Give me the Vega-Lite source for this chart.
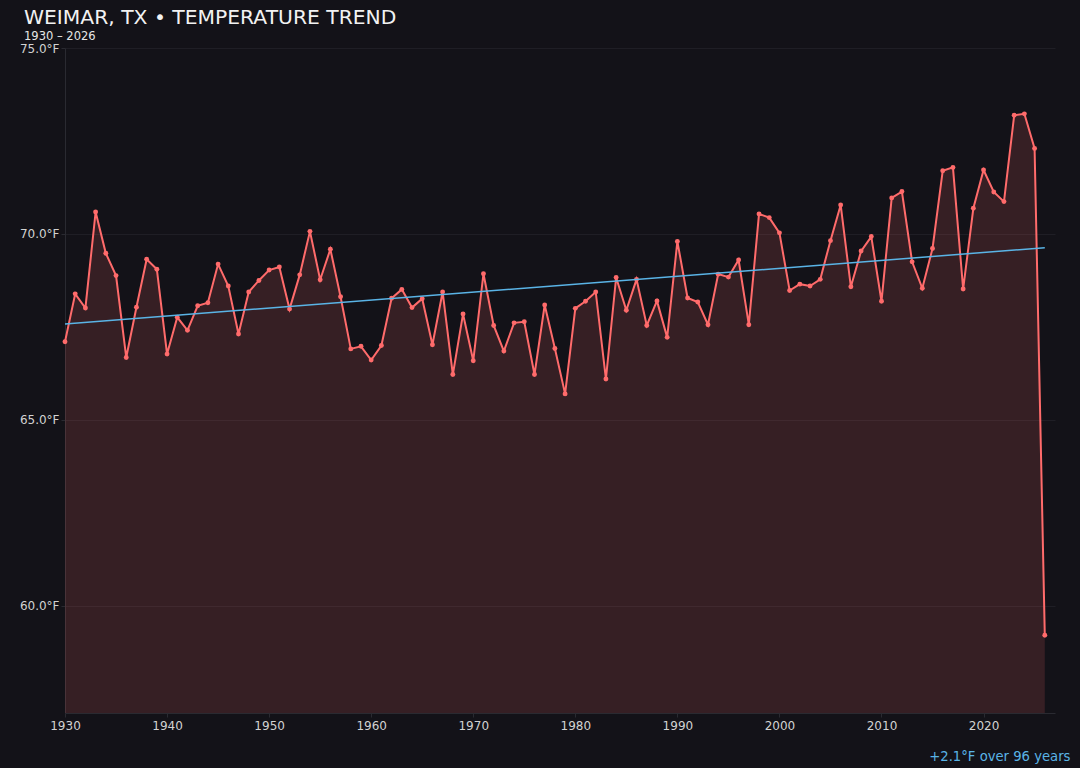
{
  "$schema": "https://vega.github.io/schema/vega-lite/v6.json",
  "width": 990,
  "height": 665,
  "autosize": {"type": "none"},
  "padding": {"left": 65, "top": 48, "right": 25, "bottom": 55},
  "background": "#131218",
  "title": {
    "text": "WEIMAR, TX • TEMPERATURE TREND",
    "subtitle": "1930 – 2026",
    "anchor": "start",
    "frame": "group",
    "dx": -41,
    "offset": 0,
    "font": "DejaVu Sans",
    "fontSize": 20.3,
    "fontWeight": "normal",
    "color": "#f2f2f2",
    "subtitleFont": "DejaVu Sans",
    "subtitleFontSize": 11.5,
    "subtitleColor": "#e6e6e6",
    "subtitlePadding": 2
  },
  "config": {
    "view": {"stroke": null},
    "font": "DejaVu Sans",
    "axis": {
      "labelColor": "#d2d2d2",
      "labelFontSize": 12,
      "labelFont": "DejaVu Sans",
      "domainColor": "#2a2a31",
      "tickColor": "#2a2a31",
      "gridColor": "#1f1e25",
      "titleColor": "#5ab4e6"
    }
  },
  "datasets": {
    "temps": [
      {"year": 1930, "temp": 67.10}, {"year": 1931, "temp": 68.39}, {"year": 1932, "temp": 68.01},
      {"year": 1933, "temp": 70.59}, {"year": 1934, "temp": 69.48}, {"year": 1935, "temp": 68.88},
      {"year": 1936, "temp": 66.68}, {"year": 1937, "temp": 68.03}, {"year": 1938, "temp": 69.32},
      {"year": 1939, "temp": 69.05}, {"year": 1940, "temp": 66.77}, {"year": 1941, "temp": 67.76},
      {"year": 1942, "temp": 67.41}, {"year": 1943, "temp": 68.07}, {"year": 1944, "temp": 68.15},
      {"year": 1945, "temp": 69.19}, {"year": 1946, "temp": 68.60}, {"year": 1947, "temp": 67.31},
      {"year": 1948, "temp": 68.44}, {"year": 1949, "temp": 68.75}, {"year": 1950, "temp": 69.03},
      {"year": 1951, "temp": 69.11}, {"year": 1952, "temp": 67.98}, {"year": 1953, "temp": 68.90},
      {"year": 1954, "temp": 70.07}, {"year": 1955, "temp": 68.77}, {"year": 1956, "temp": 69.59},
      {"year": 1957, "temp": 68.31}, {"year": 1958, "temp": 66.91}, {"year": 1959, "temp": 66.98},
      {"year": 1960, "temp": 66.61}, {"year": 1961, "temp": 67.00}, {"year": 1962, "temp": 68.27},
      {"year": 1963, "temp": 68.51}, {"year": 1964, "temp": 68.02}, {"year": 1965, "temp": 68.26},
      {"year": 1966, "temp": 67.02}, {"year": 1967, "temp": 68.44}, {"year": 1968, "temp": 66.22},
      {"year": 1969, "temp": 67.85}, {"year": 1970, "temp": 66.59}, {"year": 1971, "temp": 68.93},
      {"year": 1972, "temp": 67.54}, {"year": 1973, "temp": 66.85}, {"year": 1974, "temp": 67.61},
      {"year": 1975, "temp": 67.64}, {"year": 1976, "temp": 66.22}, {"year": 1977, "temp": 68.09},
      {"year": 1978, "temp": 66.92}, {"year": 1979, "temp": 65.70}, {"year": 1980, "temp": 68.00},
      {"year": 1981, "temp": 68.19}, {"year": 1982, "temp": 68.44}, {"year": 1983, "temp": 66.10},
      {"year": 1984, "temp": 68.83}, {"year": 1985, "temp": 67.95}, {"year": 1986, "temp": 68.78},
      {"year": 1987, "temp": 67.54}, {"year": 1988, "temp": 68.20}, {"year": 1989, "temp": 67.22},
      {"year": 1990, "temp": 69.80}, {"year": 1991, "temp": 68.28}, {"year": 1992, "temp": 68.17},
      {"year": 1993, "temp": 67.56}, {"year": 1994, "temp": 68.92}, {"year": 1995, "temp": 68.84},
      {"year": 1996, "temp": 69.30}, {"year": 1997, "temp": 67.56}, {"year": 1998, "temp": 70.54},
      {"year": 1999, "temp": 70.44}, {"year": 2000, "temp": 70.03}, {"year": 2001, "temp": 68.48},
      {"year": 2002, "temp": 68.65}, {"year": 2003, "temp": 68.60}, {"year": 2004, "temp": 68.78},
      {"year": 2005, "temp": 69.82}, {"year": 2006, "temp": 70.78}, {"year": 2007, "temp": 68.58},
      {"year": 2008, "temp": 69.54}, {"year": 2009, "temp": 69.93}, {"year": 2010, "temp": 68.19},
      {"year": 2011, "temp": 70.97}, {"year": 2012, "temp": 71.14}, {"year": 2013, "temp": 69.25},
      {"year": 2014, "temp": 68.54}, {"year": 2015, "temp": 69.61}, {"year": 2016, "temp": 71.70},
      {"year": 2017, "temp": 71.79}, {"year": 2018, "temp": 68.52}, {"year": 2019, "temp": 70.69},
      {"year": 2020, "temp": 71.72}, {"year": 2021, "temp": 71.13}, {"year": 2022, "temp": 70.87},
      {"year": 2023, "temp": 73.19}, {"year": 2024, "temp": 73.23}, {"year": 2025, "temp": 72.30},
      {"year": 2026, "temp": 59.21}
    ],
    "trend": [
      {"year": 1930, "temp": 67.58},
      {"year": 2026, "temp": 69.63}
    ]
  },
  "encoding": {
    "x": {
      "field": "year",
      "type": "quantitative",
      "scale": {"domain": [1930, 2027], "nice": false, "zero": false},
      "axis": {
        "values": [1930, 1940, 1950, 1960, 1970, 1980, 1990, 2000, 2010, 2020],
        "format": "d",
        "grid": false,
        "labelFlush": false,
        "tickSize": 4,
        "labelPadding": 3,
        "title": "+2.1°F over 96 years",
        "titleAnchor": "end",
        "titleAlign": "right",
        "titleBaseline": "alphabetic",
        "titleX": 1005,
        "titleY": 47,
        "titleFontSize": 13.2,
        "titleFontWeight": "normal",
        "titleFont": "DejaVu Sans"
      }
    },
    "y": {
      "field": "temp",
      "type": "quantitative",
      "scale": {"domain": [57.12, 75], "nice": false, "zero": false},
      "axis": {
        "values": [60, 65, 70, 75],
        "labelExpr": "format(datum.value, '.1f') + '°F'",
        "labelFlush": false,
        "grid": true,
        "tickSize": 4,
        "labelPadding": 2,
        "title": null
      }
    }
  },
  "layer": [
    {
      "data": {"name": "temps"},
      "mark": {"type": "area", "color": "#ff6b6b", "opacity": 0.15, "clip": true}
    },
    {
      "data": {"name": "temps"},
      "mark": {"type": "line", "color": "#ff6b6b", "strokeWidth": 2}
    },
    {
      "data": {"name": "temps"},
      "mark": {"type": "circle", "color": "#ff6b6b", "opacity": 1, "size": 24}
    },
    {
      "data": {"name": "trend"},
      "mark": {"type": "line", "color": "#5ab4e6", "strokeWidth": 1.5}
    }
  ]
}
